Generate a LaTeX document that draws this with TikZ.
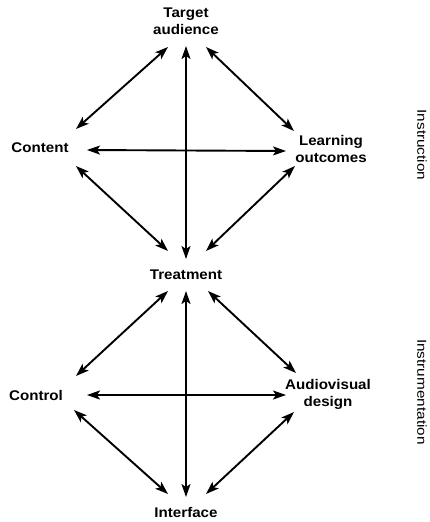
\documentclass[tikz,border=0pt]{standalone}
\usepackage{fontspec}
\setmainfont{Liberation Sans}
\newfontfamily\labelfont[FakeStretch=1.08]{Liberation Sans}
\newfontfamily\sidefont[FakeStretch=1.18]{Liberation Sans}
\usetikzlibrary{arrows.meta}
\begin{document}
\begin{tikzpicture}[x=1pt,y=-1pt,
  lbl/.style={font=\labelfont\bfseries\fontsize{14}{17}\selectfont, align=center, inner sep=1pt},
  side/.style={font=\sidefont\fontsize{13}{15}\selectfont, rotate=-90, inner sep=0pt},
  link/.style={line width=1.9pt, {Stealth[length=13pt,width=9pt,inset=3pt]}-{Stealth[length=13pt,width=9pt,inset=3pt]}}]
\useasboundingbox (0,0) rectangle (429,522);
% upper diamond
\node[lbl] (ta) at (186,21) {Target\\audience};
\node[lbl] (co) at (40,148) {Content};
\node[lbl] (lo) at (331,149) {Learning\\outcomes};
\node[lbl] (tr) at (186,275) {Treatment};
% lower diamond
\node[lbl] (ct) at (36,395) {Control};
\node[lbl] (av) at (328,394) {Audiovisual\\design};
\node[lbl] (in) at (186,512) {Interface};
% side captions
\node[side] (ins) at (422,145) {Instruction};
\node[side] (inm) at (422,392) {Instrumentation};
% connector endpoints
\coordinate (ta1) at (168,47);
\coordinate (ta2) at (186,46);
\coordinate (ta3) at (206,47);
\coordinate (co1) at (76,129);
\coordinate (co2) at (87,150);
\coordinate (co3) at (76,166);
\coordinate (lo1) at (294,131);
\coordinate (lo2) at (286,151);
\coordinate (lo3) at (295,166);
\coordinate (tr1) at (168,251);
\coordinate (tr2) at (186,259);
\coordinate (tr3) at (206,251);
\coordinate (tr4) at (168,291);
\coordinate (tr5) at (186,291);
\coordinate (tr6) at (208,291);
\coordinate (ct1) at (76,376);
\coordinate (ct2) at (87,395);
\coordinate (ct3) at (74,410);
\coordinate (av1) at (296,373);
\coordinate (av2) at (286,395);
\coordinate (av3) at (294,412);
\coordinate (in1) at (168,494);
\coordinate (in2) at (186,497);
\coordinate (in3) at (206,494);
\draw[link] (ta1) -- (co1);
\draw[link] (ta3) -- (lo1);
\draw[link] (co2) -- (lo2);
\draw[link] (ta2) -- (tr2);
\draw[link] (co3) -- (tr1);
\draw[link] (lo3) -- (tr3);
\draw[link] (tr4) -- (ct1);
\draw[link] (tr6) -- (av1);
\draw[link] (ct2) -- (av2);
\draw[link] (tr5) -- (in2);
\draw[link] (ct3) -- (in1);
\draw[link] (av3) -- (in3);
\end{tikzpicture}
\end{document}
